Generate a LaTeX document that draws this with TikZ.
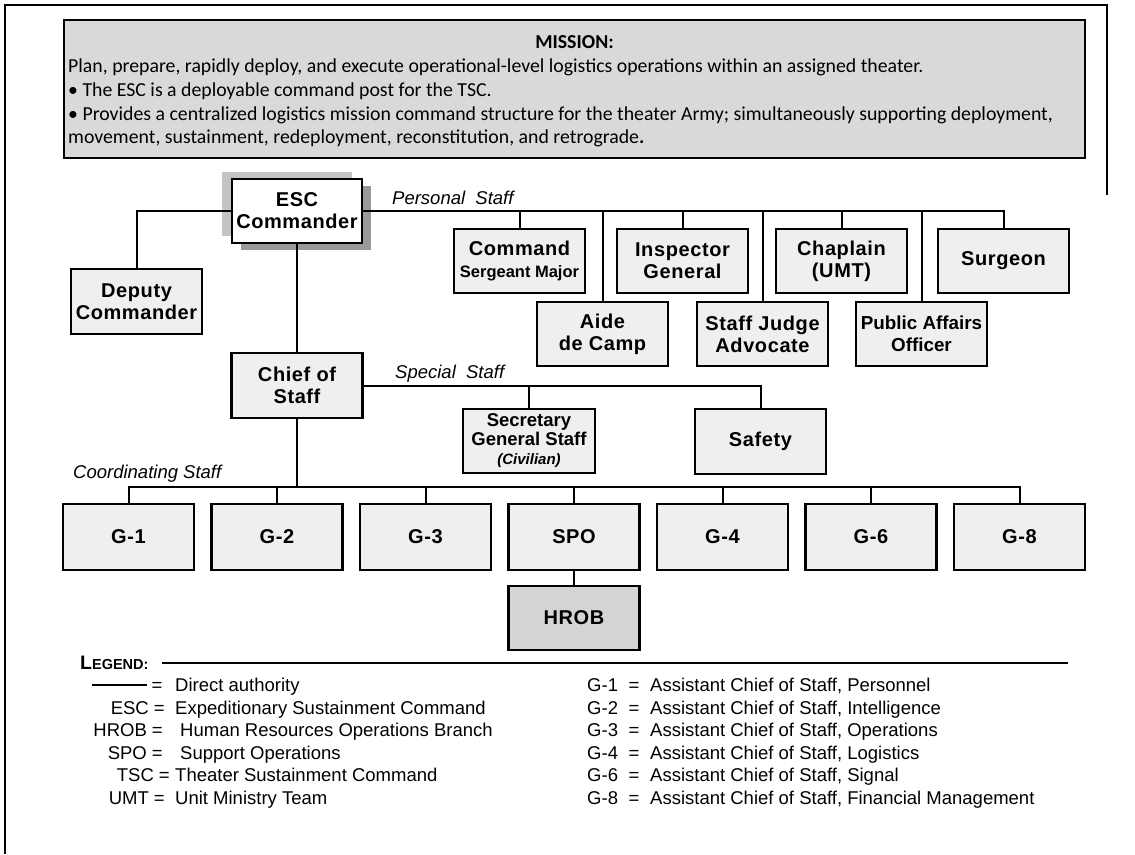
\documentclass[tikz,border=0pt]{standalone}
\usepackage{fontspec}
\setmainfont{Liberation Sans}
\newfontfamily\missionfont{Carlito}
\newfontfamily\boxfont[LetterSpace=3]{Liberation Sans}
\definecolor{boxgray}{HTML}{EFEFEF}
\definecolor{hrobgray}{HTML}{D4D4D4}
\definecolor{missiongray}{HTML}{D9D9D9}
\definecolor{shadowlight}{HTML}{C4C4C4}
\definecolor{shadowdark}{HTML}{9A9A9A}
\begin{document}
\begin{tikzpicture}[x=1pt,y=-1pt,
  box/.style={draw, line width=2.2pt, fill=boxgray, minimum width=131pt, minimum height=65pt,
    inner sep=0pt, align=center, font=\boxfont\fontsize{20}{22}\selectfont\bfseries},
  conn/.style={line width=2pt},
  lbl/.style={font=\fontsize{18.5}{22}\selectfont\itshape, inner sep=0pt},
  leg/.style={font=\fontsize{18.5}{22}\selectfont, inner sep=0pt},
  mtext/.style={font=\missionfont\fontsize{19.8}{22}\selectfont, inner sep=0pt, anchor=base west}]
\useasboundingbox (0,0) rectangle (1135,854);
% frame
\draw[line width=1.5pt] (5,854) -- (5,5) -- (1107,5) -- (1107,195);
% mission box
\node[draw, line width=1.8pt, fill=missiongray, minimum width=1021pt, minimum height=138pt, inner sep=0pt] (mission) at (574.5,89) {};
\node[font=\missionfont\bfseries\fontsize{19.8}{22}\selectfont, inner sep=0pt, anchor=base] (mtitle) at (574.5,48) {MISSION:};
\node[mtext] (m1) at (68,72) {Plan, prepare, rapidly deploy, and execute operational-level logistics operations within an assigned theater.};
\node[mtext] (m2) at (68,96) {\textbullet{} The ESC is a deployable command post for the TSC.};
\node[mtext] (m3) at (68,120) {\textbullet{} Provides a centralized logistics mission command structure for the theater Army; simultaneously supporting deployment,};
\node[mtext] (m4) at (68,143) {movement, sustainment, redeployment, reconstitution, and retrograde\textbf{.}};
% ESC commander with shadows
\fill[shadowlight] (222,172) rectangle (352,236);
\fill[shadowdark] (241,186) rectangle (371,250);
\node[box, fill=white, minimum width=130pt, minimum height=64pt] (esc) at (297,211) {ESC\\Commander};
\node[box] (dep) at (136.5,301.5) {Deputy\\Commander};
\node[box] (chief) at (297,385.5) {Chief of\\Staff};
% personal staff
\node[box, minimum height=64pt] (csm) at (519.5,261) {Command\\{\fontspec{Liberation Sans}\fontsize{16.5}{18}\selectfont\bfseries Sergeant\ Major}};
\node[box, minimum height=64pt] (ig) at (682.5,261) {Inspector\\General};
\node[box, minimum height=64pt] (chap) at (841.5,261) {Chaplain\\(UMT)};
\node[box, minimum height=64pt] (surg) at (1003.5,261) {Surgeon};
\node[box, minimum height=64pt] (aide) at (602.5,334) {Aide\\de Camp};
\node[box, minimum height=64pt] (sja) at (762.5,334) {Staff Judge\\Advocate};
\node[box, minimum height=64pt, font=\fontsize{18.8}{22}\selectfont\bfseries] (pao) at (921.5,334) {Public Affairs\\Officer};
% special staff
\node[box, minimum width=132pt, minimum height=64pt, font=\fontsize{18.5}{19}\selectfont\bfseries] (sgs) at (529,441) {Secretary\\General Staff\\{\fontsize{15}{17}\selectfont\itshape (Civilian)}};
\node[box] (safety) at (760.5,441.5) {Safety};
% coordinating staff
\node[box, minimum height=66pt] (g1) at (128.5,537) {G-1};
\node[box, minimum height=66pt] (g2) at (277,537) {G-2};
\node[box, minimum height=66pt] (g3) at (425.5,537) {G-3};
\node[box, minimum height=66pt] (spo) at (574,537) {SPO};
\node[box, minimum height=66pt] (g4) at (722.5,537) {G-4};
\node[box, minimum height=66pt] (g6) at (871,537) {G-6};
\node[box, minimum height=66pt] (g8) at (1019.5,537) {G-8};
\node[box, fill=hrobgray, minimum height=64pt] (hrob) at (574,618) {HROB};
% labels
\node[lbl, anchor=base west] (lps) at (392,204) {Personal\ \ Staff};
\node[lbl, anchor=base west] (lss) at (395,378) {Special\ \ Staff};
\node[lbl, anchor=base west] (lcs) at (73,478) {Coordinating Staff};
% connectors
\draw[conn] (esc.west) -| (dep.north);
\draw[conn] (esc.east) -| (surg.north);
\foreach \n in {csm,ig,chap,aide,sja,pao} \draw[conn] (\n.north) -- (\n.north |- esc.east);
\draw[conn] (esc.south) -- (chief.north);
\draw[conn] (chief.east) -| (safety.north);
\draw[conn] (sgs.north) -- (sgs.north |- chief.east);
\coordinate (cbus) at (297,487);
\draw[conn] (chief.south) -- (cbus);
\draw[conn] (g1.north) -- (g1.north |- cbus) -- (g8.north |- cbus) -- (g8.north);
\foreach \n in {g2,g3,spo,g4,g6} \draw[conn] (\n.north) -- (\n.north |- cbus);
\draw[conn] (spo.south) -- (hrob.north);
% legend
\node[inner sep=0pt, anchor=base west, font=\bfseries] (legt) at (80,669) {{\fontsize{19.5}{20}\selectfont L}{\fontsize{14.5}{16}\selectfont EGEND:}};
\coordinate (legs) at (162,663);
\coordinate (lege) at (1068,663);
\draw[conn] (legs) -- (lege);
\coordinate (da1) at (92,685);
\coordinate (da2) at (147,685);
\draw[line width=1.4pt] (da1) -- (da2);
\node[leg, anchor=base] (deq) at (157,691.5) {=};
\node[leg, anchor=base west] (dtx) at (175,691.5) {Direct authority};
\node[leg, anchor=base east] (a1) at (165,714) {ESC =};
\node[leg, anchor=base west] (b1) at (175,714) {Expeditionary Sustainment Command};
\node[leg, anchor=base east] (a2) at (163,736.5) {HROB =};
\node[leg, anchor=base west] (b2) at (180,736.5) {Human Resources Operations Branch};
\node[leg, anchor=base east] (a3) at (163,759) {SPO =};
\node[leg, anchor=base west] (b3) at (180,759) {Support Operations};
\node[leg, anchor=base east] (a4) at (170,781.5) {TSC =};
\node[leg, anchor=base west] (b4) at (175,781.5) {Theater Sustainment Command};
\node[leg, anchor=base east] (a5) at (165,804) {UMT =};
\node[leg, anchor=base west] (b5) at (175,804) {Unit Ministry Team};
\foreach \g/\t [count=\i from 0] in {G-1/Personnel,G-2/Intelligence,G-3/Operations,G-4/Logistics,G-6/Signal,G-8/Financial Management}{
  \node[leg, anchor=base west] (gl\i) at (587,691.5+22.5*\i) {\g};
  \node[leg, anchor=base] (ge\i) at (634,691.5+22.5*\i) {=};
  \node[leg, anchor=base west] (gt\i) at (650,691.5+22.5*\i) {Assistant Chief of Staff, \t};
}
\end{tikzpicture}
\end{document}
